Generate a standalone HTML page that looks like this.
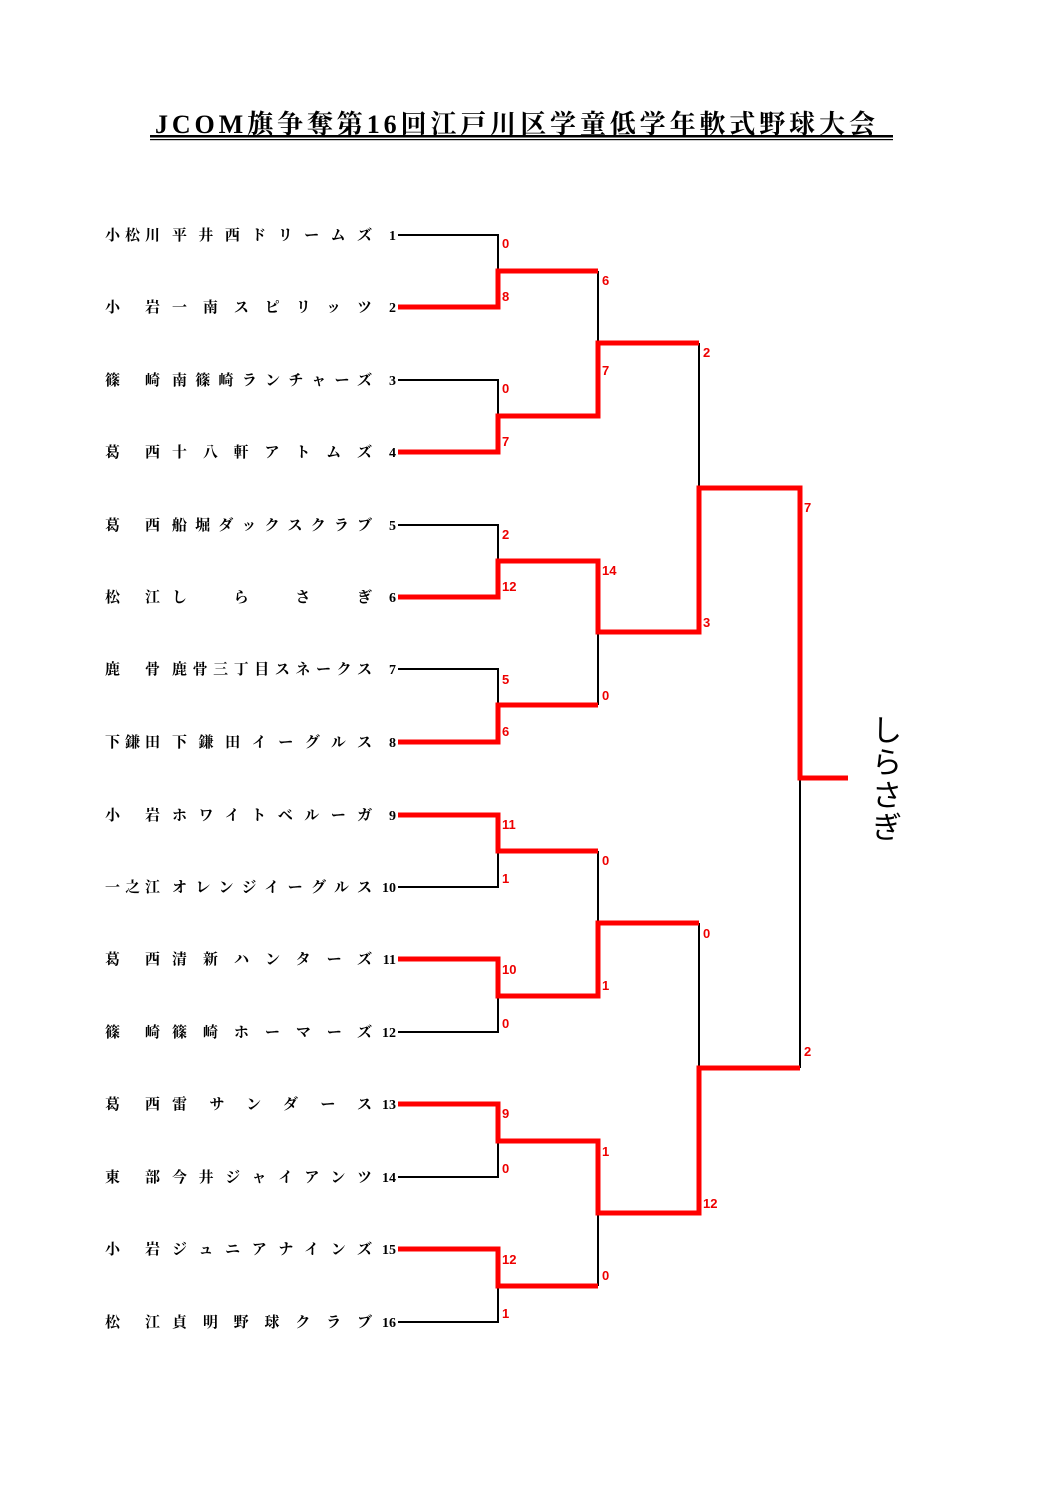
<!DOCTYPE html>
<html><head><meta charset="utf-8"><style>
html,body{margin:0;padding:0;background:#fff;}
svg{display:block;}
.t{font-family:"Liberation Serif","Noto Serif CJK JP",serif;font-size:15px;font-weight:bold;fill:#000;}
.n{font-family:"Liberation Serif",serif;font-size:14px;font-weight:bold;fill:#000;}
.s{font-family:"Liberation Sans",sans-serif;font-size:13px;font-weight:bold;fill:#e00;}
</style></head><body>
<svg width="1058" height="1497" viewBox="0 0 1058 1497" xmlns="http://www.w3.org/2000/svg">
<rect width="1058" height="1497" fill="#fff"/>
<text x="155" y="133" textLength="720" lengthAdjust="spacing" font-family="Liberation Serif,Noto Serif CJK JP,serif" font-size="26" font-weight="bold">JCOM旗争奪第16回江戸川区学童低学年軟式野球大会</text>
<rect x="150" y="135" width="743" height="2.5" fill="#000"/>
<rect x="150" y="139" width="743" height="1.2" fill="#000"/>

<g class="t">
<text x="105" y="240" textLength="55" lengthAdjust="spacing">小松川</text><text x="172" y="240" textLength="200" lengthAdjust="spacing">平井西ドリームズ</text>
<text x="105" y="312" textLength="55" lengthAdjust="spacing">小岩</text><text x="172" y="312" textLength="200" lengthAdjust="spacing">一南スピリッツ</text>
<text x="105" y="385" textLength="55" lengthAdjust="spacing">篠崎</text><text x="172" y="385" textLength="200" lengthAdjust="spacing">南篠崎ランチャーズ</text>
<text x="105" y="457" textLength="55" lengthAdjust="spacing">葛西</text><text x="172" y="457" textLength="200" lengthAdjust="spacing">十八軒アトムズ</text>
<text x="105" y="530" textLength="55" lengthAdjust="spacing">葛西</text><text x="172" y="530" textLength="200" lengthAdjust="spacing">船堀ダックスクラブ</text>
<text x="105" y="602" textLength="55" lengthAdjust="spacing">松江</text><text x="172" y="602" textLength="200" lengthAdjust="spacing">しらさぎ</text>
<text x="105" y="674" textLength="55" lengthAdjust="spacing">鹿骨</text><text x="172" y="674" textLength="200" lengthAdjust="spacing">鹿骨三丁目スネークス</text>
<text x="105" y="747" textLength="55" lengthAdjust="spacing">下鎌田</text><text x="172" y="747" textLength="200" lengthAdjust="spacing">下鎌田イーグルス</text>
<text x="105" y="820" textLength="55" lengthAdjust="spacing">小岩</text><text x="172" y="820" textLength="200" lengthAdjust="spacing">ホワイトベルーガ</text>
<text x="105" y="892" textLength="55" lengthAdjust="spacing">一之江</text><text x="172" y="892" textLength="200" lengthAdjust="spacing">オレンジイーグルス</text>
<text x="105" y="964" textLength="55" lengthAdjust="spacing">葛西</text><text x="172" y="964" textLength="200" lengthAdjust="spacing">清新ハンターズ</text>
<text x="105" y="1037" textLength="55" lengthAdjust="spacing">篠崎</text><text x="172" y="1037" textLength="200" lengthAdjust="spacing">篠崎ホーマーズ</text>
<text x="105" y="1109" textLength="55" lengthAdjust="spacing">葛西</text><text x="172" y="1109" textLength="200" lengthAdjust="spacing">雷サンダース</text>
<text x="105" y="1182" textLength="55" lengthAdjust="spacing">東部</text><text x="172" y="1182" textLength="200" lengthAdjust="spacing">今井ジャイアンツ</text>
<text x="105" y="1254" textLength="55" lengthAdjust="spacing">小岩</text><text x="172" y="1254" textLength="200" lengthAdjust="spacing">ジュニアナインズ</text>
<text x="105" y="1327" textLength="55" lengthAdjust="spacing">松江</text><text x="172" y="1327" textLength="200" lengthAdjust="spacing">貞明野球クラブ</text>
</g>
<g class="n" text-anchor="end">
<text x="396" y="240">1</text><text x="396" y="312">2</text><text x="396" y="385">3</text><text x="396" y="457">4</text>
<text x="396" y="530">5</text><text x="396" y="602">6</text><text x="396" y="674">7</text><text x="396" y="747">8</text>
<text x="396" y="820">9</text><text x="396" y="892">10</text><text x="396" y="964">11</text><text x="396" y="1037">12</text>
<text x="396" y="1109">13</text><text x="396" y="1182">14</text><text x="396" y="1254">15</text><text x="396" y="1327">16</text>
</g>

<g fill="none" stroke="#000" stroke-width="2">
<path d="M398 235H498V271"/><path d="M398 380H498V416"/><path d="M398 525H498V561"/><path d="M398 669H498V705"/>
<path d="M398 887H498V851"/><path d="M398 1032H498V996"/><path d="M398 1177H498V1141"/><path d="M398 1322H498V1286"/>
<path d="M598 271V343"/><path d="M598 705V632"/><path d="M598 851V923"/><path d="M598 1286V1213"/>
<path d="M699 343V488"/><path d="M699 923V1068"/>
<path d="M800 1068V778"/>
</g>
<g fill="none" stroke="#f00" stroke-width="5" stroke-linejoin="miter">
<path d="M398 307H498V271H598"/>
<path d="M398 452H498V416H598V343H699"/>
<path d="M398 597H498V561H598V632H699V488H800V778H848"/>
<path d="M398 742H498V705H598"/>
<path d="M398 815H498V851H598"/>
<path d="M398 959H498V996H598V923H699"/>
<path d="M398 1104H498V1141H598V1213H699V1068H800"/>
<path d="M398 1249H498V1286H598"/>
</g>

<g class="s">
<text x="502" y="248">0</text><text x="502" y="301">8</text>
<text x="502" y="393">0</text><text x="502" y="446">7</text>
<text x="502" y="539">2</text><text x="502" y="591">12</text>
<text x="502" y="684">5</text><text x="502" y="736">6</text>
<text x="502" y="829">11</text><text x="502" y="883">1</text>
<text x="502" y="974">10</text><text x="502" y="1028">0</text>
<text x="502" y="1118">9</text><text x="502" y="1173">0</text>
<text x="502" y="1264">12</text><text x="502" y="1318">1</text>
<text x="602" y="285">6</text><text x="602" y="375">7</text>
<text x="602" y="575">14</text><text x="602" y="700">0</text>
<text x="602" y="865">0</text><text x="602" y="990">1</text>
<text x="602" y="1156">1</text><text x="602" y="1280">0</text>
<text x="703" y="357">2</text><text x="703" y="627">3</text>
<text x="703" y="938">0</text><text x="703" y="1208">12</text>
<text x="804" y="512">7</text><text x="804" y="1056">2</text>
</g>

<g font-family="Liberation Sans,Noto Sans CJK JP,sans-serif" font-size="30" text-anchor="middle" fill="#000">
<text x="887" y="741">し</text><text x="887" y="773">ら</text><text x="887" y="806">さ</text><text x="887" y="838">ぎ</text>
</g>
</svg>
</body></html>
